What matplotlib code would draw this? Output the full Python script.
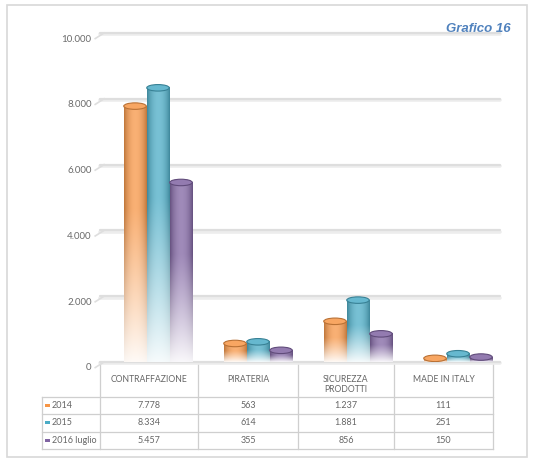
import numpy as np
import matplotlib
matplotlib.use("Agg")
import matplotlib.pyplot as plt
from matplotlib.patches import Ellipse, Rectangle
from matplotlib.transforms import ScaledTranslation, blended_transform_factory
from matplotlib.colors import to_rgb

# ---- data ----
categories = ["CONTRAFFAZIONE", "PIRATERIA", "SICUREZZA\nPRODOTTI", "MADE IN ITALY"]
series_names = ["2014", "2015", "2016 luglio"]
values_2014 = [7778, 563, 1237, 111]
values_2015 = [8334, 614, 1881, 251]
values_2016 = [5457, 355, 856, 150]
series_values = [values_2014, values_2015, values_2016]
series_colors = ["#F79646", "#4BACC6", "#8064A2"]
yticks = [0, 2000, 4000, 6000, 8000, 10000]
title_text = "Grafico 16"

def fmt(v):
    return f"{v:,}".replace(",", ".")

W, H = 534, 463
fig = plt.figure(figsize=(W / 100, H / 100), dpi=100)
fig.patch.set_facecolor("white")

# background / decoration axes in pixel coordinates
ax2 = fig.add_axes([0, 0, 1, 1], zorder=0)
ax2.set_xlim(0, W)
ax2.set_ylim(H, 0)
ax2.axis("off")

# main chart axes
y0_px, y1_px = 362, 33
ax = fig.add_axes([100 / W, 1 - y0_px / H, 400 / W, (y0_px - y1_px) / H], zorder=1)
ax.patch.set_alpha(0)
ax.set_xlim(-0.5, len(categories) - 0.5)
ax.set_ylim(0, 10000)
for s in ax.spines.values():
    s.set_visible(False)
ax.set_xticks([])
ax.set_yticks(yticks)
ax.set_yticklabels([fmt(t) for t in yticks], fontsize=7, color="#6a6a6a", family="Lato")
ax.tick_params(axis="y", length=0, pad=6)
off = ScaledTranslation(0, -5 / 100, fig.dpi_scale_trans)
for lab in ax.get_yticklabels():
    lab.set_transform(lab.get_transform() + off)

# gridlines with perspective stub
bt = blended_transform_factory(ax.transAxes, ax.transData)
for t in yticks:
    ax.plot([0.0, 1.0], [t - 40, t - 40], color="#ededed", lw=2.6, zorder=0.4, transform=bt, clip_on=False,
            solid_capstyle="round")
    ax.plot([0.0, 1.0], [t, t], color="#dedede", lw=1.6, zorder=0.5, transform=bt, clip_on=False,
            solid_capstyle="round")
    ax.plot([-0.012, 0.01], [t - 170, t], color="#dedede", lw=1.2, zorder=0.5, transform=bt, clip_on=False)

# bars
x = np.arange(len(categories))
bw = 0.225
offsets = [-0.23 + 0.08, 0.0 + 0.08, 0.23 + 0.08]
px_per_unit = (y0_px - y1_px) / 10000.0
ell_h = 6.5 / px_per_unit


def cyl_image(color, nrow=200, ncol=60):
    base = np.array(to_rgb(color))
    white = np.ones(3)
    u = (np.arange(ncol) + 0.5) / ncol
    t = np.sin(np.pi * u) ** 0.7
    light = base * 0.75 + white * 0.25
    dark = base * 0.75
    row = dark[None, :] + (light - dark)[None, :] * t[:, None]
    v = (np.arange(nrow) + 0.5) / nrow
    w = np.clip((v - 0.40) / 0.60, 0, 1) ** 1.1 * 0.94
    img = row[None, :, :] * (1 - w[:, None, None]) + white[None, None, :] * w[:, None, None]
    return np.clip(img, 0, 1)


for si, (vals, col) in enumerate(zip(series_values, series_colors)):
    bars = ax.bar(x + offsets[si], vals, width=bw, color="none", edgecolor="none", zorder=2)
    base = np.array(to_rgb(col))
    for r in bars:
        x0, wdt, h = r.get_x(), r.get_width(), r.get_height()
        ax.imshow(cyl_image(col), extent=[x0, x0 + wdt, 0, h], origin="upper", aspect="auto",
                  interpolation="bilinear", zorder=2)
        top = Ellipse((x0 + wdt / 2, h), wdt, ell_h, facecolor=base * 0.85 + 0.15,
                      edgecolor=base * 0.75, lw=0.8, zorder=3)
        ax.add_patch(top)

ax.set_xlim(-0.5, len(categories) - 0.5)
ax.set_ylim(0, 10000)

# ---- table ----
lc = "#cfcfcf"
col_edges = [100, 198, 298, 394, 493]
row_edges = [397, 414, 431.5, 449]
tab_left = 42
for xe in col_edges:
    ax2.plot([xe, xe], [364, row_edges[-1]], color=lc, lw=0.9)
ax2.plot([tab_left, tab_left], [row_edges[0], row_edges[-1]], color=lc, lw=0.9)
for ye in row_edges:
    ax2.plot([tab_left, col_edges[-1]], [ye, ye], color=lc, lw=0.9)

tc = "#666666"
for ci, cat in enumerate(categories):
    cx = (col_edges[ci] + col_edges[ci + 1]) / 2
    ax2.text(cx, 374.5, cat, ha="center", va="top", fontsize=6.2, color=tc, family="Lato",
             linespacing=1.25)

for si, (name, vals, col) in enumerate(zip(series_names, series_values, series_colors)):
    cy = (row_edges[si] + row_edges[si + 1]) / 2
    ax2.add_patch(Rectangle((45, cy - 1.6), 5, 3.2, facecolor=col, edgecolor="none"))
    ax2.text(52, cy, name, ha="left", va="center", fontsize=6.5, color=tc, family="Lato")
    for ci, v in enumerate(vals):
        cx = (col_edges[ci] + col_edges[ci + 1]) / 2
        ax2.text(cx, cy, fmt(v), ha="center", va="center", fontsize=6.5, color=tc, family="Lato")

# title and frame
ax2.text(511, 29, title_text, ha="right", va="center", fontsize=9.5, color="#4F81BD",
         fontweight="bold", fontstyle="italic", family="Liberation Sans")
ax2.add_patch(Rectangle((7, 5), 520, 452, facecolor="none", edgecolor="#d8d8d8", lw=1.2))

fig.savefig("out.png", dpi=100, facecolor="white")
